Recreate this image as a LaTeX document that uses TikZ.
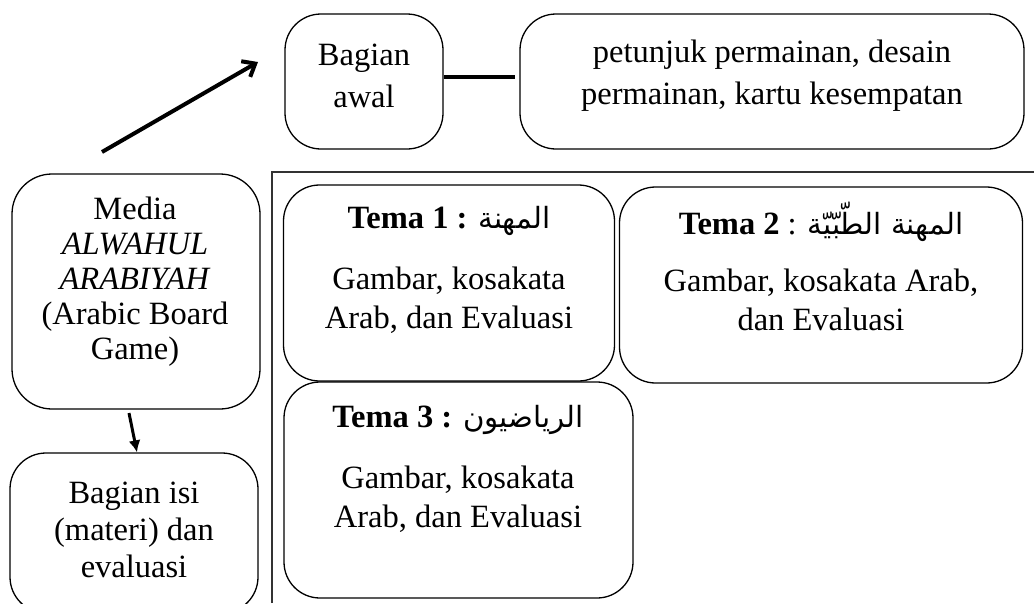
\documentclass[tikz,border=0pt]{standalone}
\usepackage{fontspec}
\setmainfont{Liberation Serif}
\newfontfamily\arabicfont[Script=Arabic,Scale=0.9]{DejaVu Sans}
\TeXXeTstate=1
\usetikzlibrary{arrows.meta}
\begin{document}
\begin{tikzpicture}[x=1pt,y=-1pt,
  box/.style={draw,line width=1.3pt,rounded corners=36pt,inner sep=0pt},
  txt/.style={align=center,inner sep=0pt,font=\fontsize{32.5}{35}\selectfont},
  bracket/.style={draw=black!80,line width=1.3pt}]
\useasboundingbox (0,0) rectangle (1034,603);
% top row
\node[box,minimum width=158pt,minimum height=135pt] (awal) at (364,81.5) {};
\node[txt,font=\fontsize{32.5}{42}\selectfont] (awalt) at (364,76) {Bagian\\awal};
\node[box,minimum width=504pt,minimum height=135pt] (pet) at (772,81.5) {};
\node[txt,font=\fontsize{32.5}{42}\selectfont] (pett) at (772,76) {petunjuk permainan, desain\\permainan, kartu kesempatan};
\coordinate (lineend) at (515,77);
\draw[line width=4pt] (awal.east |- lineend) -- (lineend);
% big arrow
\coordinate (a1s) at (102,152);
\coordinate (a1e) at (258,62);
\draw[line width=4pt,-{Straight Barb[length=11pt,width=18pt]}] (a1s) -- (a1e);
% left column
\node[box,minimum width=248pt,minimum height=235pt,rounded corners=40pt] (media) at (136,291.5) {};
\node[txt] (mediat) at (135,282) {Media\\\textit{ALWAHUL}\\\textit{ARABIYAH}\\(Arabic Board\\Game)};
\node[box,minimum width=248pt,minimum height=160pt] (isi) at (134,533) {};
\node[txt,font=\fontsize{32.5}{37}\selectfont] (isit) at (134,530) {Bagian isi\\(materi) dan\\evaluasi};
\draw[line width=3pt,-{Latex[length=12pt,width=12pt]}] (129,413) -- (isi.north -| 137,0);
% bracket
\coordinate (bra) at (272,603);
\coordinate (brb) at (272,172);
\coordinate (brc) at (1034,172);
\draw[bracket] (bra) -- (brb) -- (brc);
% tema boxes
\node[box,minimum width=331pt,minimum height=196pt] (t1) at (449,283) {};
\node[txt] (t1h) at (449,221) {\textbf{Tema 1 :} {\arabicfont\beginR المهنة\endR}};
\node[txt,font=\fontsize{32.5}{39}\selectfont] (t1b) at (449,300) {Gambar, kosakata\\Arab, dan Evaluasi};
\node[box,minimum width=403pt,minimum height=196pt] (t2) at (821,285) {};
\node[txt] (t2h) at (821,222) {\textbf{Tema 2} : {\arabicfont\beginR المهنة الطّبّيّة\endR}};
\node[txt,font=\fontsize{32.5}{39}\selectfont] (t2b) at (821,300) {Gambar, kosakata Arab,\\dan Evaluasi};
\node[box,minimum width=349pt,minimum height=216pt] (t3) at (458.5,490) {};
\node[txt] (t3h) at (458,420) {\textbf{Tema 3 :} {\arabicfont\beginR الرياضيون\endR}};
\node[txt,font=\fontsize{32.5}{39}\selectfont] (t3b) at (458,499) {Gambar, kosakata\\Arab, dan Evaluasi};
\end{tikzpicture}
\end{document}
